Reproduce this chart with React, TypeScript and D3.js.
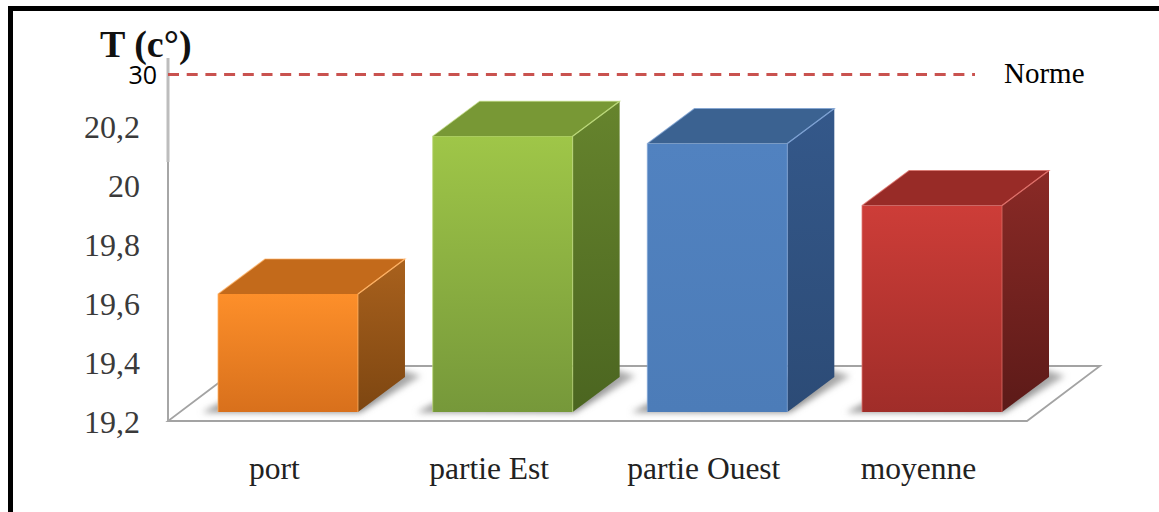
import React from "react";
import * as d3 from "d3";

const categories = ["port", "partie Est", "partie Ouest", "moyenne"];
const temperatures = [19.6, 20.135, 20.11, 19.9];
const tickValues = [19.2, 19.4, 19.6, 19.8, 20, 20.2];
const tickLabels = ["19,2", "19,4", "19,6", "19,8", "20", "20,2"];
const normValue = 30;
const normLabel = "Norme";
const normTick = "30";
const axisTitle = "T (c°)";
const frontTop = ["#fd8f2a", "#9fc648", "#5182c0", "#cd3d38"];
const frontBottom = ["#d8701c", "#76983a", "#4c7cb8", "#a02d29"];
const topColors = ["#c36a1b", "#789835", "#3b6291", "#982b27"];
const sideTop = ["#a9611d", "#66842d", "#34588a", "#8a2a26"];
const sideBottom = ["#7d4611", "#4b6520", "#2c4b76", "#5c1a18"];
const edgeColors = ["#ffb264", "#bcd97a", "#7ea3d4", "#e0706a"];

const W = 1159, H = 512;
const DX = 47, DY = 35;          // bar depth
const FDX = 73, FDY = 55;        // floor depth
const serif = "'Liberation Serif', serif";

const y = d3.scaleLinear().domain([19.2, 20.2, normValue]).range([412, 117, 64.5]);
const x = d3.scaleBand<string>().domain(categories).range([218, 1002]).paddingInner(0.348).paddingOuter(0);
const labelShift = 10;
const floorY = y(19.2) + 9;

const pts = (p: [number, number][]) => p.map(q => q.join(",")).join(" ");

export default function App() {
  const bw = x.bandwidth();
  return (
    <svg width={W} height={H} viewBox={`0 0 ${W} ${H}`}
      style={{ position: "fixed", left: 0, top: 0, display: "block", background: "#fff" }}>
      <defs>
        <filter id="soft" x="-20%" y="-40%" width="140%" height="180%">
          <feGaussianBlur stdDeviation="3" />
        </filter>
        <linearGradient id="shadow" x1="0" x2="1" y1="0" y2="0">
          <stop offset="0" stopColor="#9a9a9a" />
          <stop offset="0.75" stopColor="#8a8a8a" />
          <stop offset="1" stopColor="#b5b5b5" />
        </linearGradient>
        {categories.map((c, i) => (
          <React.Fragment key={c}>
            <linearGradient id={`f${i}`} x1="0" x2="0" y1="0" y2="1">
              <stop offset="0" stopColor={frontTop[i]} />
              <stop offset="1" stopColor={frontBottom[i]} />
            </linearGradient>
            <linearGradient id={`s${i}`} x1="0" x2="0" y1="0" y2="1">
              <stop offset="0" stopColor={sideTop[i]} />
              <stop offset="1" stopColor={sideBottom[i]} />
            </linearGradient>
          </React.Fragment>
        ))}
      </defs>

      {/* frame */}
      <path d={`M10.5 ${H} V8.5 H${W}`} fill="none" stroke="#000" strokeWidth={5} />

      {/* floor */}
      <polygon
        points={pts([[168, floorY], [1027, floorY], [1027 + FDX, floorY - FDY], [168 + FDX, floorY - FDY]])}
        fill="#fff" stroke="#a3a3a3" strokeWidth={1.8} />

      {/* y axis */}
      <line x1={168} x2={168} y1={58} y2={162} stroke="#bdbdbd" strokeWidth={3} />
      <line x1={168} x2={168} y1={162} y2={floorY} stroke="#a6a6a6" strokeWidth={2} />

      {/* norm line */}
      <line x1={168} x2={975} y1={y(normValue) + labelShift} y2={y(normValue) + labelShift}
        stroke="#c9524f" strokeWidth={3} strokeDasharray="11 7.7" />
      <text x={1004} y={83} fontFamily={serif} fontSize={29} fill="#000" textAnchor="start">{normLabel}</text>

      {/* title */}
      <text x={100} y={57} fontFamily={serif} fontSize={38} fontWeight="bold" fill="#111">{axisTitle}</text>

      {/* ticks */}
      {tickValues.map((v, i) => (
        <text key={v} x={140} y={y(v) + labelShift} dy="0.34em" textAnchor="end"
          fontFamily={serif} fontSize={32} fill="#3a3a3a">{tickLabels[i]}</text>
      ))}
      <text x={157} y={y(normValue) + labelShift} dy="0.36em" textAnchor="end"
        fontFamily="'Open Sans', sans-serif" fontSize={25} fill="#000">{normTick}</text>

      {/* shadows */}
      {categories.map(c => {
        const x0 = x(c)!, x1 = x0 + bw, b = y(19.2);
        return (
          <polygon key={c} filter="url(#soft)" fill="url(#shadow)"
            points={pts([[x0 - 16, b + 0.5], [x1 + 2, b + 0.5], [x1 + DX + 16, b - DY - 1], [x1 + DX - 6, b - DY - 8], [x0 + 4, b - 10]])} />
        );
      })}

      {/* bars */}
      {categories.map((c, i) => {
        const x0 = x(c)!, x1 = x0 + bw, t = y(temperatures[i]), b = y(19.2);
        return (
          <g key={c}>
            <polygon points={pts([[x1, t], [x1 + DX, t - DY], [x1 + DX, b - DY], [x1, b]])} fill={`url(#s${i})`} />
            <polygon points={pts([[x0, t], [x0 + DX, t - DY], [x1 + DX, t - DY], [x1, t]])} fill={topColors[i]} />
            <rect x={x0} y={t} width={bw} height={b - t} fill={`url(#f${i})`} />
            <path d={`M${x0} ${b} V${t} L${x0 + DX} ${t - DY} H${x1 + DX} L${x1} ${t} V${b}`}
              fill="none" stroke={edgeColors[i]} strokeWidth={1.1} strokeOpacity={0.7} />
            <line x1={x1} x2={x1 + DX} y1={t} y2={t - DY} stroke={edgeColors[i]} strokeWidth={1.2} strokeOpacity={0.8} />
          </g>
        );
      })}

      {/* category labels */}
      {categories.map(c => (
        <text key={c} x={x(c)! + bw / 2 - 13.5} y={479} textAnchor="middle"
          fontFamily={serif} fontSize={31.5} fill="#222">{c}</text>
      ))}
    </svg>
  );
}
